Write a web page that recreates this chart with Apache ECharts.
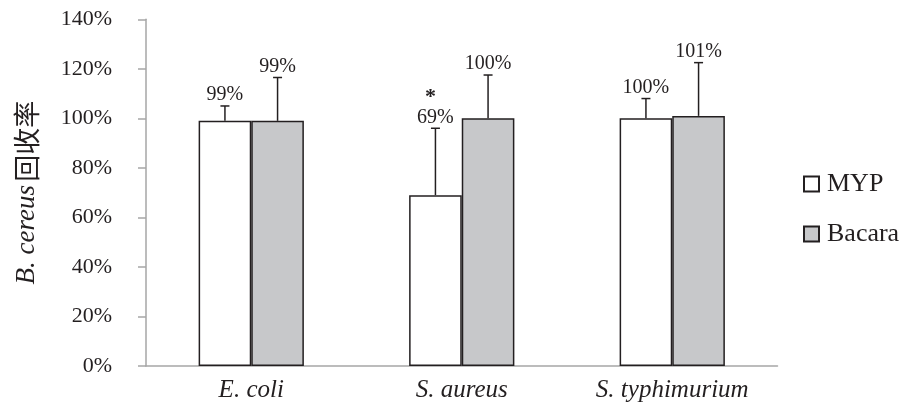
<!DOCTYPE html>
<html>
<head>
<meta charset="utf-8">
<script src="https://cdn.jsdelivr.net/npm/echarts@6/dist/echarts.min.js"></script>
<style>html,body{margin:0;padding:0;background:#fff}#c{width:905px;height:409px}</style>
</head>
<body>
<div id="c"></div>
<script>
const categories = ['E. coli', 'S. aureus', 'S. typhimurium'];
const seriesNames = ['MYP', 'Bacara'];
const mypValues = [0.99, 0.69, 1.00];
const bacaraValues = [0.99, 1.00, 1.01];
const mypErrors = [0.06, 0.27, 0.08];
const bacaraErrors = [0.175, 0.175, 0.215];
const mypLabels = ['99%', '69%', '100%'];
const bacaraLabels = ['99%', '100%', '101%'];
const mypMarks = ['', '*', ''];
const bacaraMarks = ['', '', ''];

const SERIF = "'Liberation Serif', 'Times New Roman', serif";
const TXT = '#231f20';
const AXIS = '#a6a6a6';

function errSeries(vals, errs, labels, marks, offset) {
  return {
    type: 'custom',
    silent: true,
    z: 5,
    data: categories.map((c, i) => [i, vals[i] + errs[i]]),
    renderItem: function (params, api) {
      const i = params.dataIndex;
      const w = api.size([1, 0])[0];
      const base = api.coord([i, vals[i]]);
      const top = api.coord([i, vals[i] + errs[i]]);
      const x = base[0] + offset * w;
      const children = [
        { type: 'line', shape: { x1: x, y1: base[1], x2: x, y2: top[1] }, style: { stroke: TXT, lineWidth: 1.5 } },
        { type: 'line', shape: { x1: x - 4.5, y1: top[1], x2: x + 4.5, y2: top[1] }, style: { stroke: TXT, lineWidth: 1.5 } },
        { type: 'text', x: x, y: top[1] - 1, style: { text: labels[i], fill: TXT, font: '20px ' + SERIF, align: 'center', verticalAlign: 'bottom' } }
      ];
      if (marks[i]) {
        children.push({ type: 'text', x: x - 5, y: top[1] - 20, style: { text: marks[i], fill: TXT, font: 'bold 22px ' + SERIF, align: 'center', verticalAlign: 'bottom' } });
      }
      return { type: 'group', children: children };
    }
  };
}

const chart = echarts.init(document.getElementById('c'), null, { renderer: 'canvas' });
chart.setOption({
  animation: false,
  backgroundColor: '#fff',
  grid: { left: 146, right: 127.5, top: 19.3, bottom: 43, containLabel: false },
  legend: {
    data: seriesNames,
    orient: 'vertical',
    left: 803,
    top: 171,
    padding: 0,
    itemWidth: 15,
    itemHeight: 15,
    itemGap: 24,
    icon: 'rect',
    textStyle: { fontFamily: SERIF, fontSize: 26, color: TXT, padding: [0, 0, 0, 3] }
  },
  xAxis: {
    type: 'category',
    data: categories,
    axisLine: { lineStyle: { color: AXIS, width: 1.5 } },
    axisTick: { show: false },
    axisLabel: { fontFamily: SERIF, fontStyle: 'italic', fontSize: 25, color: TXT, margin: 12 }
  },
  yAxis: {
    type: 'value',
    min: 0,
    max: 1.4,
    interval: 0.2,
    name: '{i|B. cereus} {n|回收率}',
    nameLocation: 'middle',
    nameGap: 106,
    nameRotate: 90,
    nameTextStyle: {
      rich: {
        i: { fontFamily: SERIF, fontStyle: 'italic', fontSize: 27, color: TXT },
        n: { fontFamily: "'Noto Sans CJK SC', sans-serif", fontSize: 27, color: TXT }
      }
    },
    axisLine: { show: true, lineStyle: { color: AXIS, width: 1.5 } },
    axisTick: { show: true, length: 8, lineStyle: { color: AXIS, width: 1.5 } },
    splitLine: { show: false },
    axisLabel: {
      fontFamily: SERIF, fontSize: 22, color: TXT, margin: 34,
      formatter: v => Math.round(v * 100) + '%'
    }
  },
  series: [
    {
      name: 'MYP', type: 'bar', data: mypValues, barGap: '0%', barCategoryGap: '50%',
      itemStyle: { color: '#ffffff', borderColor: TXT, borderWidth: 1.5 }
    },
    {
      name: 'Bacara', type: 'bar', data: bacaraValues, barGap: '0%', barCategoryGap: '50%',
      itemStyle: { color: '#c7c8ca', borderColor: TXT, borderWidth: 1.5 }
    },
    errSeries(mypValues, mypErrors, mypLabels, mypMarks, -0.125),
    errSeries(bacaraValues, bacaraErrors, bacaraLabels, bacaraMarks, 0.125)
  ]
});
</script>
</body>
</html>
